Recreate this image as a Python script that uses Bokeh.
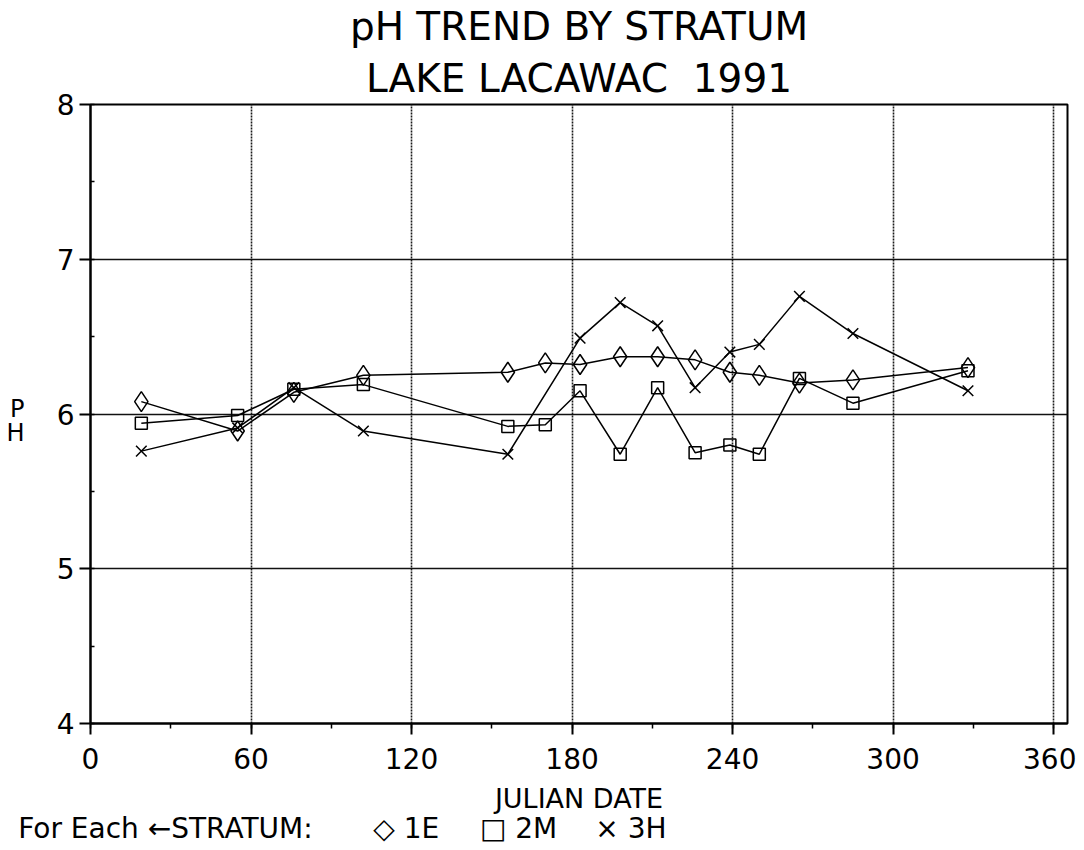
from bokeh.plotting import figure
from bokeh.models import (Range1d, SingleIntervalTicker, FixedTicker, LinearAxis,
                          Title)
from bokeh.embed import file_html
from bokeh.resources import INLINE

# ---- data ----
dates = [19, 55, 76, 102, 156, 170, 183, 198, 212, 226, 239, 250, 265, 285, 328]
ph_1E = [6.08, 5.89, 6.14, 6.25, 6.27, 6.33, 6.32, 6.37, 6.37, 6.35, 6.27, 6.25, 6.20, 6.22, 6.30]
ph_2M = [5.94, 5.99, 6.16, 6.19, 5.92, 5.93, 6.15, 5.74, 6.17, 5.75, 5.80, 5.74, 6.23, 6.07, 6.28]
dates_3H = [19, 55, 76, 102, 156, 183, 198, 212, 226, 239, 250, 265, 285, 328]
ph_3H = [5.76, 5.91, 6.17, 5.89, 5.74, 6.49, 6.72, 6.57, 6.17, 6.40, 6.45, 6.76, 6.52, 6.15]

title_lines = ["pH TREND BY STRATUM", "LAKE LACAWAC \u00a01991"]
x_label = "JULIAN DATE"
y_label = ["P", "H"]
legend_texts = ["For Each \u2190STRATUM:", "\u25c7 1E", "\u25a1 2M", "\u00d7 3H"]

# layout helpers: where the stacked y label and the key line sit (axis units)
Y_LABEL_POS = [6.035, 5.874]
KEY_POS = [28, 118, 160, 202]

FONT = "DejaVu Sans"

p = figure(width=1076, height=848, output_backend="svg", toolbar_location=None,
           x_range=Range1d(0, 365.2), y_range=Range1d(4, 8),
           min_border_left=90, min_border_right=9, min_border_top=102,
           min_border_bottom=125)
p.background_fill_color = "white"
p.border_fill_color = "white"
p.outline_line_color = "black"
p.outline_line_width = 2

xt = SingleIntervalTicker(interval=60, num_minor_ticks=2)
yt = SingleIntervalTicker(interval=1, num_minor_ticks=2)
p.xaxis.ticker = xt
p.yaxis.ticker = yt
p.xgrid.ticker = xt
p.ygrid.ticker = yt

for ax in (p.xaxis[0], p.yaxis[0]):
    ax.axis_line_color = "black"
    ax.axis_line_width = 2
    ax.major_tick_line_color = "black"
    ax.major_tick_line_width = 2
    ax.minor_tick_line_color = "black"
    ax.minor_tick_line_width = 1.5
    ax.major_tick_in = 0
    ax.major_tick_out = 11
    ax.major_label_text_font = FONT
    ax.major_label_text_font_size = "28px"
    ax.major_label_text_color = "black"

p.xaxis.minor_tick_in = 0
p.xaxis.minor_tick_out = 5
p.xaxis.major_label_standoff = 13
p.xaxis.axis_label = x_label
p.xaxis.axis_label_standoff = 11
p.xaxis.axis_label_text_font = FONT
p.xaxis.axis_label_text_font_size = "27px"
p.xaxis.axis_label_text_font_style = "normal"
p.xaxis.axis_label_text_color = "black"
p.yaxis.minor_tick_in = 4
p.yaxis.minor_tick_out = 0
p.yaxis.major_label_standoff = 5

p.xgrid.grid_line_color = "#1a1a1a"
p.xgrid.grid_line_width = 1.6
p.xgrid.grid_line_dash = "2 1"
p.ygrid.grid_line_color = "#111111"
p.ygrid.grid_line_width = 1.7

# series
p.line(dates, ph_1E, line_color="black", line_width=1.5)
p.scatter(dates, ph_1E, marker="diamond", size=20, fill_color=None,
          line_color="black", line_width=1.5)
p.line(dates, ph_2M, line_color="black", line_width=1.5)
p.scatter(dates, ph_2M, marker="square", size=12, fill_color=None,
          line_color="black", line_width=1.5)
p.line(dates_3H, ph_3H, line_color="black", line_width=1.5)
p.scatter(dates_3H, ph_3H, marker="x", size=15, line_color="black",
          line_width=1.5)

# title lines (first added is nearest the frame)
p.add_layout(Title(text=title_lines[1], align="center", text_font=FONT,
                   text_font_size="39px", text_font_style="normal",
                   text_color="black", standoff=8), "above")
p.add_layout(Title(text=title_lines[0], align="center", text_font=FONT,
                   text_font_size="39px", text_font_style="normal",
                   text_color="black", standoff=2), "above")


def text_axis(ticks, labels, size, standoff, dim):
    ax = LinearAxis(ticker=FixedTicker(ticks=ticks),
                    major_label_overrides={t: s for t, s in zip(ticks, labels)},
                    axis_line_color=None, major_tick_line_color=None,
                    minor_tick_line_color=None, major_tick_in=0,
                    major_tick_out=0, minor_tick_in=0, minor_tick_out=0,
                    major_label_standoff=standoff, major_label_text_font=FONT,
                    major_label_text_font_size=size,
                    major_label_text_color="black")
    p.add_layout(ax, dim)
    return ax


# stacked "P" / "H" label left of the y axis
text_axis(Y_LABEL_POS, y_label, "24px", 29, "left")
# key line under the x axis title
text_axis(KEY_POS, legend_texts, "28px", -5, "below")

open("out.html", "w").write(file_html(p, INLINE))
